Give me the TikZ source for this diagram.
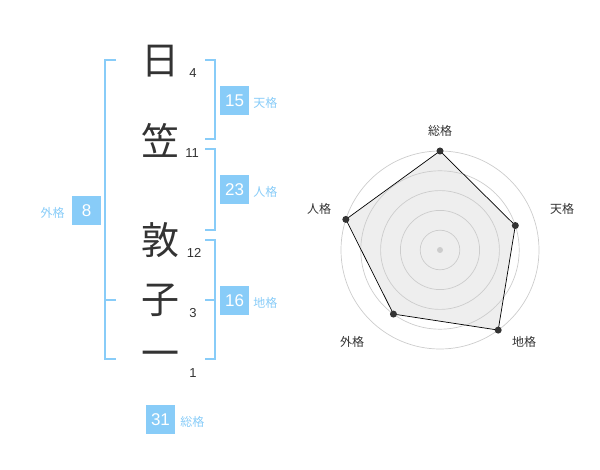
\documentclass[tikz,border=0pt]{standalone}
\usepackage{fontspec}
\setmainfont{Liberation Sans}
\newfontfamily\jpfont{Noto Sans CJK JP}
\usetikzlibrary{positioning}
\definecolor{kakublue}{RGB}{136,204,248}
\definecolor{kakutext}{RGB}{51,51,51}
\definecolor{ringgray}{RGB}{204,204,204}
\definecolor{areagray}{RGB}{238,238,238}
\begin{document}
\begin{tikzpicture}[x=1pt,y=-1pt]
    % Styles
        \tikzstyle{kanji} = [text=kakutext, font=\jpfont\fontsize{38}{38}\selectfont, inner sep=0pt]
        \tikzstyle{strokes} = [text=kakutext, font=\fontsize{13}{13}\selectfont, inner sep=0pt]
        \tikzstyle{score} = [fill=kakublue, text=white, minimum width=29pt, minimum height=29pt, inner sep=0pt, font=\fontsize{17}{17}\selectfont]
        \tikzstyle{kaku} = [text=kakublue, font=\jpfont\fontsize{12}{12}\selectfont, inner sep=0pt]
        \tikzstyle{bracket} = [draw=kakublue, line width=2pt]
        \tikzstyle{axis} = [text=kakutext, font=\jpfont\fontsize{12}{12}\selectfont, inner sep=0pt]
        \tikzstyle{ring} = [draw=ringgray, line width=0.7pt]
        \tikzstyle{point} = [circle, fill=kakutext, inner sep=0pt, minimum size=7pt]
        \useasboundingbox (0,0) rectangle (600,470);
    % name column
        \node [kanji] (hi) at (160,61) {日};
        \node [kanji] (kasa) at (160,140) {笠};
        \node [kanji] (atsu) at (160,240) {敦};
        \node [kanji] (ko) at (160,300) {子};
        \node [kanji] (ichi) at (160,359) {一};
    % stroke counts
        \node [strokes] (hi-n) at ([shift={(33,12)}]hi.center) {4};
        \node [strokes] (kasa-n) at ([shift={(32,13)}]kasa.center) {11};
        \node [strokes] (atsu-n) at ([shift={(34,13)}]atsu.center) {12};
        \node [strokes] (ko-n) at ([shift={(33,13)}]ko.center) {3};
        \node [strokes] (ichi-n) at ([shift={(33,14)}]ichi.center) {1};
    % brackets
        \draw [bracket] (116,60) -- (105,60) -- (105,359) -- (116,359);
        \draw [bracket] (105,300) -- (116,300);
        \draw [bracket] (205,60) -- (215,60) -- (215,139) -- (205,139);
        \draw [bracket] (205,149) -- (215,149) -- (215,230) -- (205,230);
        \draw [bracket] (205,240) -- (215,240) -- (215,359) -- (205,359);
        \draw [bracket] (205,300) -- (215,300);
    % scores
        \node [score] (ten) at (234.5,100.5) {15};
        \node [kaku, right = 4pt of ten, yshift=-2pt] (ten-l) {天格};
        \node [score] (jin) at (234.5,190) {23};
        \node [kaku, right = 4pt of jin, yshift=-2pt] (jin-l) {人格};
        \node [score] (chi) at (234.5,300.5) {16};
        \node [kaku, right = 4pt of chi, yshift=-2pt] (chi-l) {地格};
        \node [score] (gai) at (86.5,211) {8};
        \node [kaku, left = 7pt of gai, yshift=-2pt] (gai-l) {外格};
        \node [score] (sou) at (160.5,419.5) {31};
        \node [kaku, right = 5pt of sou, yshift=-2pt] (sou-l) {総格};
    % radar
        \coordinate (c) at (440,250);
        \coordinate (sou-p) at ([shift={(-90:99)}]c);
        \coordinate (ten-p) at ([shift={(-18:79.2)}]c);
        \coordinate (chi-p) at ([shift={(54:99)}]c);
        \coordinate (gai-p) at ([shift={(126:79.2)}]c);
        \coordinate (jin-p) at ([shift={(198:99)}]c);
        \fill [areagray] (sou-p) -- (ten-p) -- (chi-p) -- (gai-p) -- (jin-p) -- cycle;
        \foreach \r in {19.8,39.6,59.4,79.2,99} \draw [ring] (c) circle [radius=\r pt];
        \draw [black, line width=0.7pt] (sou-p) -- (ten-p) -- (chi-p) -- (gai-p) -- (jin-p) -- cycle;
        \node [circle, fill=ringgray, inner sep=0pt, minimum size=6pt] (c-dot) at (c) {};
        \foreach \p in {sou-p,ten-p,chi-p,gai-p,jin-p} \node [point] at (\p) {};
    % axis labels
        \node [axis] (sou-a) at (440,131) {総格};
        \node [axis] (ten-a) at (562,209) {天格};
        \node [axis] (chi-a) at (524,342) {地格};
        \node [axis] (gai-a) at (352,342) {外格};
        \node [axis] (jin-a) at (319,209) {人格};
\end{tikzpicture}
\end{document}
